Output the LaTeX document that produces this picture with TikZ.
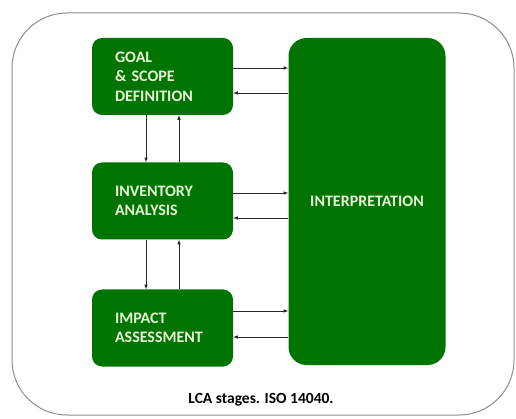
\documentclass[tikz,border=0pt]{standalone}
\usepackage{fontspec}
\setmainfont{Carlito}
\usetikzlibrary{arrows}
\definecolor{stagegreen}{RGB}{0,116,0}
\definecolor{stagetext}{RGB}{232,248,214}
\definecolor{framegray}{RGB}{140,140,140}
\tikzset{
	stage/.style={fill=stagegreen, rounded corners=10pt, text=stagetext,
		font=\fontsize{16}{19.5}\selectfont\bfseries, align=left,
		text width=95pt, inner xsep=23pt, minimum height=77pt},
	flow/.style={-latex, line width=0.6pt, black!85}
}
\begin{document}
\begin{tikzpicture}[x=1pt,y=-1pt]
	\useasboundingbox (0,0) rectangle (516,419);
	\draw[framegray, line width=1pt, rounded corners=55pt] (12,13) rectangle (514,415);
	\node[stage] (goal) at (162.5,76.5) {GOAL\\\& SCOPE\\DEFINITION};
	\node[stage] (inv) at (162.5,201) {INVENTORY\\ANALYSIS};
	\node[stage] (imp) at (162.5,328) {IMPACT\\ASSESSMENT};
	\node[fill=stagegreen, rounded corners=18pt, text=stagetext,
		font=\fontsize{16}{18}\selectfont\bfseries,
		minimum width=157pt, minimum height=327pt] (interp) at (367,201.5) {INTERPRETATION};
	\foreach \s/\a/\b in {goal/8.5/-16.5, inv/8/-17, imp/17/-9} {
		\draw[flow] ([yshift=\a pt]\s.east) -- ([yshift=\a pt]\s.east -| interp.west);
		\draw[flow] ([yshift=\b pt]\s.east -| interp.west) -- ([yshift=\b pt]\s.east);}
	\foreach \u/\l in {goal/inv, inv/imp} {
		\draw[flow] ([xshift=-16.5pt]\u.south) -- ([xshift=-16.5pt]\l.north);
		\draw[flow] ([xshift=16.5pt]\l.north) -- ([xshift=16.5pt]\u.south);}
	\node[font=\fontsize{15.5}{18}\selectfont\bfseries, anchor=base] (cap) at (261,403) {LCA stages. ISO 14040.};
\end{tikzpicture}
\end{document}
